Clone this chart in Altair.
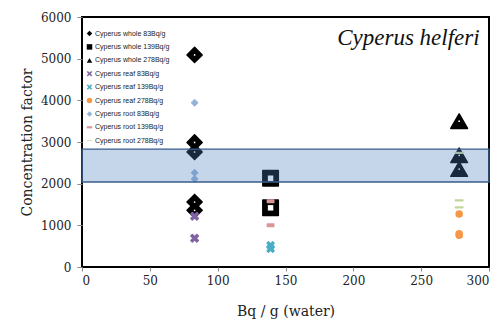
import altair as alt
import pandas as pd

# ---- data ----
series_names = [
    "Cyperus whole 83Bq/g", "Cyperus whole 139Bq/g", "Cyperus whole 278Bq/g",
    "Cyperus reaf 83Bq/g", "Cyperus reaf 139Bq/g", "Cyperus reaf 278Bq/g",
    "Cyperus root 83Bq/g", "Cyperus root 139Bq/g", "Cyperus root 278Bq/g",
]
series_x = [83, 139, 278, 83, 139, 278, 83, 139, 278]
series_y = [
    [5090, 2990, 2760, 1560, 1360],
    [2130, 1420],
    [3500, 2680, 2350],
    [1220, 690],
    [520, 440],
    [1270, 800, 760],
    [3940, 2260, 2110],
    [1580, 1000],
    [2740, 1600, 1430],
]
band_y = [2040, 2830]
band_x = [0, 300]

colors = ["#000000", "#000000", "#000000", "#8064A2", "#4BACC6", "#F79646",
          "#95B3D7", "#D99694", "#C3D69B"]
xpath = "M-1,-0.6L-0.6,-1L0,-0.4L0.6,-1L1,-0.6L0.4,0L1,0.6L0.6,1L0,0.4L-0.6,1L-1,0.6L-0.4,0Z"
shapes = ["diamond", "square", "triangle-up", xpath, xpath, "circle", "diamond",
          "M-1,-0.4H1V0.4H-1Z", "M-1,-0.12H1V0.12H-1Z"]
sizes = [230, 240, 280, 56, 49, 36, 36, 40, 56]

rows = []
for i, (name, xv, ys) in enumerate(zip(series_names, series_x, series_y)):
    for yv in ys:
        rows.append({"series": name, "x": xv, "y": yv, "order": i, "sz": sizes[i]})
df = pd.DataFrame(rows)
band_df = pd.DataFrame({"x": [band_x[0]], "x2": [band_x[1]], "y": [band_y[0]], "y2": [band_y[1]]})

serif = "DejaVu Serif"
xscale = alt.Scale(domain=[0, 300], nice=False)
yscale = alt.Scale(domain=[0, 6000], nice=False)

xaxis = alt.Axis(values=[0, 50, 100, 150, 200, 250, 300], format="d", title="Bq / g  (water)",
                 tickSize=4, labelPadding=4, titleY=44, titleBaseline="middle")
yaxis = alt.Axis(values=[0, 1000, 2000, 3000, 4000, 5000, 6000], format="d",
                 title="Concentration factor", tickSize=5, labelPadding=6,
                 titleX=-55, titleY=125, titleBaseline="middle", titleAngle=-90)

points = alt.Chart(df).mark_point(filled=True, opacity=1, strokeWidth=1.5,
                                   strokeJoin="round").encode(
    x=alt.X("x:Q", scale=xscale, axis=xaxis),
    y=alt.Y("y:Q", scale=yscale, axis=yaxis),
    color=alt.Color("series:N", scale=alt.Scale(domain=series_names, range=colors),
                    legend=alt.Legend(title=None, orient="none", legendX=4, legendY=13,
                                      labelFont="Liberation Sans", labelFontSize=7,
                                      labelColor="#222", symbolSize=30, rowPadding=5.4,
                                      labelOffset=2, symbolStrokeWidth=0)),
    shape=alt.Shape("series:N", scale=alt.Scale(domain=series_names, range=shapes)),
    size=alt.Size("sz:Q", scale=None, legend=None),
    stroke=alt.Stroke("series:N", scale=alt.Scale(domain=series_names, range=colors), legend=None),
    order="order:Q",
)

inner_sq = alt.Chart(df).transform_filter(
    alt.datum.series == "Cyperus whole 139Bq/g"
).mark_point(shape="square", filled=True, color="white", size=30, opacity=1).encode(
    x=alt.X("x:Q", scale=xscale), y=alt.Y("y:Q", scale=yscale))

inner_dot = alt.Chart(df).transform_filter(
    (alt.datum.series == "Cyperus whole 83Bq/g") | (alt.datum.series == "Cyperus whole 278Bq/g")
).mark_point(shape="circle", filled=True, color="white", size=3, opacity=1).encode(
    x=alt.X("x:Q", scale=xscale), y=alt.Y("y:Q", scale=yscale))

band = alt.Chart(band_df).mark_rect(fill="#4F81BD", fillOpacity=0.32, stroke="#385D8A",
                                    strokeWidth=1.3).encode(
    x=alt.X("x:Q", scale=xscale), x2="x2:Q",
    y=alt.Y("y:Q", scale=yscale), y2="y2:Q")

chart = alt.layer(points, inner_sq, inner_dot, band).properties(
    width=407, height=250,
    background="white",
    autosize=alt.AutoSizeParams(type="none"),
    padding={"left": 74, "top": 9, "right": 4, "bottom": 52},
    title=alt.TitleParams("Cyperus helferi", anchor="end", font="Liberation Serif",
                          fontStyle="italic", fontWeight="normal", fontSize=23,
                          color="#111", dx=-10, dy=50, baseline="middle", offset=0),
).configure_view(stroke="black", strokeWidth=2).configure_axis(
    grid=False, domain=False, labelFont=serif, labelFontSize=12, labelColor="#222",
    tickColor="#888", titleFont=serif, titleFontSize=14, titleFontWeight="normal",
    titleColor="#222",
)

chart.save("out.html", embed_options={"renderer": "svg", "actions": False})
